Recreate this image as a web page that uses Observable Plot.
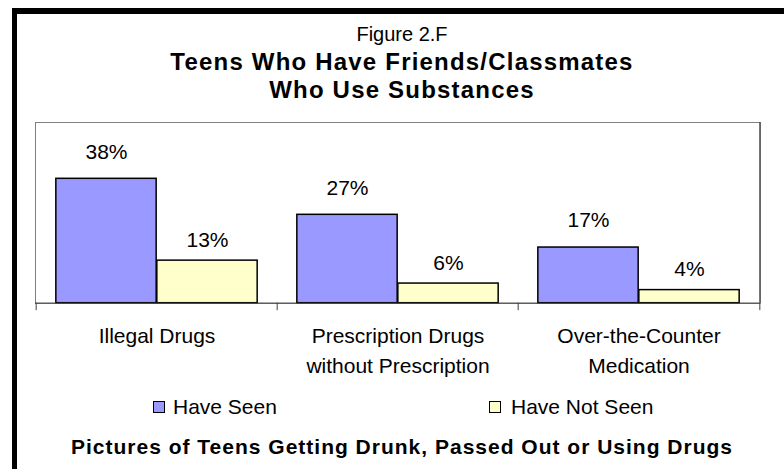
<!DOCTYPE html>
<html>
<head>
<meta charset="utf-8">
<script src="https://cdn.jsdelivr.net/npm/d3@7"></script>
<script src="https://cdn.jsdelivr.net/npm/@observablehq/plot@0.6"></script>
<style>
  html, body { margin: 0; padding: 0; background: #fff; overflow: hidden; width: 784px; height: 469px; }
  body { position: relative; font-family: "Liberation Sans", Arial, sans-serif; color: #000; }
  #frame { position: absolute; left: 12px; top: 8px; width: 900px; height: 700px; box-sizing: border-box;
           border-top: 6px solid #000; border-left: 5px solid #000; }
  .t { position: absolute; left: 12px; width: 780px; text-align: center; white-space: nowrap; }
  #fig { top: 24px; font-size: 20px; line-height: 20px; }
  #title1 { top: 50px; font-size: 24px; line-height: 24px; font-weight: bold; letter-spacing: 1.2px; }
  #title2 { top: 78px; font-size: 24px; line-height: 24px; font-weight: bold; letter-spacing: 1.2px; }
  #caption { top: 436px; font-size: 21px; line-height: 21px; font-weight: bold; letter-spacing: 1px; }
  #chart { position: absolute; left: 0; top: 100px; }
  .sw { position: absolute; width: 12px; height: 12px; box-sizing: border-box; border: 1.5px solid #000; }
  .lt { position: absolute; font-size: 21px; line-height: 21px; white-space: nowrap; }
</style>
</head>
<body>
<div id="frame"></div>
<div class="t" id="fig">Figure 2.F</div>
<div class="t" id="title1">Teens Who Have Friends/Classmates</div>
<div class="t" id="title2">Who Use Substances</div>
<div id="chart"></div>
<div id="legend"></div>
<div class="t" id="caption">Pictures of Teens Getting Drunk, Passed Out or Using Drugs</div>
<script>
const categories = ["Illegal Drugs", "Prescription Drugs\nwithout Prescription", "Over-the-Counter\nMedication"];
const series = ["Have Seen", "Have Not Seen"];
const haveSeen = [38, 27, 17];
const haveNotSeen = [13, 6, 4];
const colors = ["#9999FF", "#FFFFCC"];

const data = categories.flatMap((c, i) => [
  {category: c, series: series[0], value: haveSeen[i]},
  {category: c, series: series[1], value: haveNotSeen[i]}
]);

const W = 784, H = 280, mL = 35, mR = 24, mT = 22, mB = 77.3;
const bw = (W - mL - mR) / categories.length;
const barW = 101, pad = (bw - 2 * barW) / 2;
const seen = data.filter(d => d.series === series[0]);
const notSeen = data.filter(d => d.series === series[1]);

const chart = Plot.plot({
  width: W, height: H,
  marginLeft: mL, marginRight: mR, marginTop: mT, marginBottom: mB,
  x: {domain: categories, padding: 0, axis: null},
  y: {domain: [0, 55.2], axis: null},
  color: {domain: series, range: colors},
  style: {fontFamily: "'Liberation Sans', Arial, sans-serif", background: "transparent", overflow: "visible", color: "#000"},
  marks: [
    Plot.frame({stroke: "#808080"}),
    Plot.ruleX([categories[categories.length - 1]], {x: d => d, dx: bw / 2, stroke: "#333"}),
    Plot.barY(seen, {x: "category", y: "value", fill: "series", stroke: "#000", strokeWidth: 1.5,
      insetLeft: pad, insetRight: bw - pad - barW}),
    Plot.barY(notSeen, {x: "category", y: "value", fill: "series", stroke: "#000", strokeWidth: 1.5,
      insetLeft: pad + barW, insetRight: pad}),
    Plot.ruleY([0], {stroke: "#404040"}),
    Plot.ruleX(categories, {x: d => d, dx: -bw / 2, insetTop: H - mT - mB, insetBottom: -7.5, stroke: "#404040"}),
    Plot.ruleX([categories[categories.length - 1]], {x: d => d, dx: bw / 2, insetTop: H - mT - mB, insetBottom: -7.5, stroke: "#404040"}),
    Plot.text(seen, {x: "category", y: "value", text: d => d.value + "%", dx: pad + barW / 2 - bw / 2, dy: -27, fontSize: 21, fill: "#000"}),
    Plot.text(notSeen, {x: "category", y: "value", text: d => d.value + "%", dx: pad + barW * 1.5 - bw / 2, dy: -20.5, fontSize: 21, fill: "#000"}),
    Plot.text(categories, {x: d => d, text: d => d, frameAnchor: "bottom", lineAnchor: "top", dy: 18, fontSize: 21, lineHeight: 1.43, fill: "#000"})
  ]
});
document.getElementById("chart").appendChild(chart);

// Legend
const legend = document.getElementById("legend");
const legendPos = [{sw: 153, tx: 173}, {sw: 489, tx: 511}];
series.forEach((s, i) => {
  const sw = document.createElement("div");
  sw.className = "sw";
  sw.style.left = legendPos[i].sw + "px";
  sw.style.top = "401px";
  sw.style.background = colors[i];
  legend.appendChild(sw);
  const t = document.createElement("div");
  t.className = "lt";
  t.style.left = legendPos[i].tx + "px";
  t.style.top = "396px";
  t.textContent = s;
  legend.appendChild(t);
});
</script>
</body>
</html>
